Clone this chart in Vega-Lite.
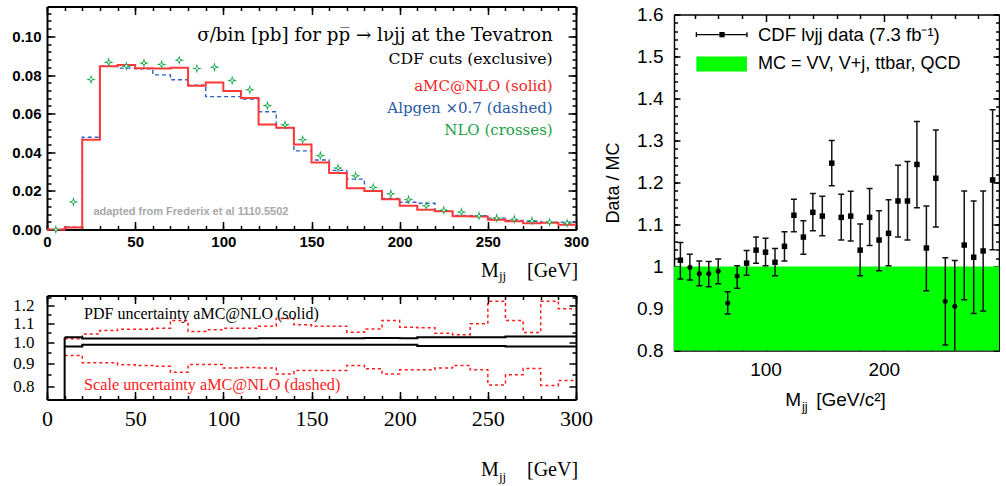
{
"$schema": "https://vega.github.io/schema/vega-lite/v6.json",
"background": "white",
"padding": {"left": 11, "top": 0.5, "right": 0, "bottom": 3},
"datasets": {
"top": [
{"m":0,"amc":0,"alp":0},{"m":10,"amc":0.001,"alp":0.0012},{"m":20,"amc":0.0465,"alp":0.0478},{"m":30,"amc":0.0846,"alp":0.0846},
{"m":40,"amc":0.0852,"alp":0.0836},{"m":50,"amc":0.0835,"alp":0.0832},{"m":60,"amc":0.0834,"alp":0.0801},{"m":70,"amc":0.0838,"alp":0.0776},
{"m":80,"amc":0.0744,"alp":0.0748},{"m":90,"amc":0.0762,"alp":0.0688},{"m":100,"amc":0.0717,"alp":0.0688},{"m":110,"amc":0.0681,"alp":0.0676},
{"m":120,"amc":0.0544,"alp":0.061},{"m":130,"amc":0.0527,"alp":0.0527},{"m":140,"amc":0.044,"alp":0.0407},{"m":150,"amc":0.0347,"alp":0.036},
{"m":160,"amc":0.0292,"alp":0.0306},{"m":170,"amc":0.0214,"alp":0.0261},{"m":180,"amc":0.02,"alp":0.0198},{"m":190,"amc":0.0157,"alp":0.0161},
{"m":200,"amc":0.0123,"alp":0.0141},{"m":210,"amc":0.0102,"alp":0.0136},{"m":220,"amc":0.0095,"alp":0.0095},{"m":230,"amc":0.0069,"alp":0.0073},
{"m":240,"amc":0.0067,"alp":0.0071},{"m":250,"amc":0.005,"alp":0.0059},{"m":260,"amc":0.0043,"alp":0.0047},{"m":270,"amc":0.0033,"alp":0.0043},
{"m":280,"amc":0.0035,"alp":0.0038},{"m":290,"amc":0.0024,"alp":0.0038},{"m":300,"amc":0.0024,"alp":0.0038}
],
"nlo": [
{"m":5,"nlo":0},{"m":15,"nlo":0.0143},{"m":25,"nlo":0.0777},{"m":35,"nlo":0.0866},{"m":45,"nlo":0.0846},{"m":55,"nlo":0.0862},
{"m":65,"nlo":0.0855},{"m":75,"nlo":0.0877},{"m":85,"nlo":0.0834},{"m":95,"nlo":0.0841},{"m":105,"nlo":0.0772},{"m":115,"nlo":0.0724},
{"m":125,"nlo":0.0642},{"m":135,"nlo":0.0542},{"m":145,"nlo":0.0465},{"m":155,"nlo":0.0383},{"m":165,"nlo":0.0318},{"m":175,"nlo":0.0278},
{"m":185,"nlo":0.0218},{"m":195,"nlo":0.0185},{"m":205,"nlo":0.0155},{"m":215,"nlo":0.0123},{"m":225,"nlo":0.01},{"m":235,"nlo":0.009},
{"m":245,"nlo":0.0071},{"m":255,"nlo":0.0059},{"m":265,"nlo":0.0053},{"m":275,"nlo":0.0045},{"m":285,"nlo":0.0038},{"m":295,"nlo":0.0033}
],
"ratio": [
{"m":10,"up":1.018,"lo":0.936,"pu":1.025,"pl":0.979},{"m":20,"up":1.043,"lo":0.902,"pu":1.019,"pl":0.987},
{"m":30,"up":1.061,"lo":0.902,"pu":1.019,"pl":0.987},{"m":40,"up":1.068,"lo":0.893,"pu":1.019,"pl":0.987},
{"m":50,"up":1.068,"lo":0.89,"pu":1.019,"pl":0.987},{"m":60,"up":1.073,"lo":0.886,"pu":1.019,"pl":0.987},
{"m":70,"up":1.116,"lo":0.86,"pu":1.019,"pl":0.987},{"m":80,"up":1.056,"lo":0.894,"pu":1.019,"pl":0.987},
{"m":90,"up":1.065,"lo":0.894,"pu":1.019,"pl":0.987},{"m":100,"up":1.073,"lo":0.879,"pu":1.019,"pl":0.987},
{"m":110,"up":1.073,"lo":0.881,"pu":1.019,"pl":0.987},{"m":120,"up":1.084,"lo":0.879,"pu":1.02,"pl":0.987},
{"m":130,"up":1.127,"lo":0.853,"pu":1.021,"pl":0.987},{"m":140,"up":1.092,"lo":0.868,"pu":1.021,"pl":0.987},
{"m":150,"up":1.084,"lo":0.868,"pu":1.021,"pl":0.987},{"m":160,"up":1.084,"lo":0.868,"pu":1.021,"pl":0.987},
{"m":170,"up":1.052,"lo":0.89,"pu":1.021,"pl":0.987},{"m":180,"up":1.069,"lo":0.875,"pu":1.022,"pl":0.987},
{"m":190,"up":1.116,"lo":0.853,"pu":1.022,"pl":0.987},{"m":200,"up":1.078,"lo":0.871,"pu":1.021,"pl":0.987},
{"m":210,"up":1.076,"lo":0.871,"pu":1.025,"pl":0.981},{"m":220,"up":1.047,"lo":0.879,"pu":1.025,"pl":0.981},
{"m":230,"up":1.039,"lo":0.89,"pu":1.025,"pl":0.981},{"m":240,"up":1.097,"lo":0.871,"pu":1.025,"pl":0.981},
{"m":250,"up":1.229,"lo":0.807,"pu":1.025,"pl":0.981},{"m":260,"up":1.116,"lo":0.849,"pu":1.029,"pl":0.979},
{"m":270,"up":1.05,"lo":0.877,"pu":1.029,"pl":0.979},{"m":280,"up":1.229,"lo":0.805,"pu":1.029,"pl":0.979},
{"m":290,"up":1.183,"lo":0.825,"pu":1.029,"pl":0.979},{"m":300,"up":1.183,"lo":0.825,"pu":1.029,"pl":0.979}
],
"cdf": [
{"m":28,"r":1.015,"lo":0.970,"hi":1.057},{"m":36,"r":0.998,"lo":0.968,"hi":1.029},{"m":44,"r":0.983,"lo":0.954,"hi":1.013},
{"m":52,"r":0.983,"lo":0.952,"hi":1.012},{"m":60,"r":0.989,"lo":0.959,"hi":1.018},{"m":68,"r":0.913,"lo":0.887,"hi":0.940},
{"m":76,"r":0.977,"lo":0.948,"hi":1.002},{"m":84,"r":1.008,"lo":0.979,"hi":1.038},{"m":92,"r":1.039,"lo":1.008,"hi":1.070},
{"m":100,"r":1.034,"lo":1.002,"hi":1.067},{"m":108,"r":1.010,"lo":0.978,"hi":1.043},{"m":116,"r":1.048,"lo":1.013,"hi":1.083},
{"m":124,"r":1.122,"lo":1.083,"hi":1.160},{"m":132,"r":1.070,"lo":1.029,"hi":1.109},{"m":140,"r":1.129,"lo":1.085,"hi":1.174},
{"m":148,"r":1.120,"lo":1.073,"hi":1.167},{"m":156,"r":1.246,"lo":1.192,"hi":1.300},{"m":164,"r":1.117,"lo":1.063,"hi":1.172},
{"m":172,"r":1.120,"lo":1.061,"hi":1.179},{"m":180,"r":1.039,"lo":0.978,"hi":1.101},{"m":188,"r":1.117,"lo":1.050,"hi":1.186},
{"m":196,"r":1.063,"lo":0.990,"hi":1.133},{"m":204,"r":1.079,"lo":1.002,"hi":1.159},{"m":212,"r":1.156,"lo":1.070,"hi":1.241},
{"m":220,"r":1.156,"lo":1.063,"hi":1.250},{"m":228,"r":1.243,"lo":1.140,"hi":1.345},{"m":236,"r":1.044,"lo":0.942,"hi":1.144},
{"m":244,"r":1.210,"lo":1.094,"hi":1.325},{"m":252,"r":0.917,"lo":0.813,"hi":1.021},{"m":260,"r":0.905,"lo":0.780,"hi":1.014},
{"m":268,"r":1.051,"lo":0.921,"hi":1.180},{"m":276,"r":1.022,"lo":0.888,"hi":1.156},{"m":284,"r":1.037,"lo":0.894,"hi":1.180},
{"m":292,"r":1.206,"lo":1.040,"hi":1.373}
]
},
"hconcat": [
{"vconcat": [
{
"width": 529, "height": 223,
"layer": [
{"data":{"name":"top"},"mark":{"type":"line","interpolate":"step-after","color":"#2a62c4","strokeWidth":1.4,"strokeDash":[4,3]},
 "encoding":{"x":{"field":"m","type":"quantitative","scale":{"domain":[0,300],"nice":false,"zero":false},"axis":null},
             "y":{"field":"alp","type":"quantitative","scale":{"domain":[0,0.1155],"nice":false,"zero":false},"axis":null}}},
{"data":{"name":"top"},"mark":{"type":"line","interpolate":"step-after","color":"#ff3838","strokeWidth":2},
 "encoding":{"x":{"field":"m","type":"quantitative","scale":{"domain":[0,300],"nice":false,"zero":false},"axis":null},
             "y":{"field":"amc","type":"quantitative","scale":{"domain":[0,0.1155],"nice":false,"zero":false},"axis":null}}},
{"data":{"name":"nlo"},"mark":{"type":"point","shape":"M0,-1L0.22,-0.22L1,0L0.22,0.22L0,1L-0.22,0.22L-1,0L-0.22,-0.22Z","filled":true,"color":"#18a849","size":100,"opacity":1},
 "encoding":{"x":{"field":"m","type":"quantitative","scale":{"domain":[0,300],"nice":false,"zero":false},"axis":null},
             "y":{"field":"nlo","type":"quantitative","scale":{"domain":[0,0.1155],"nice":false,"zero":false},"axis":null}}},
{"data":{"name":"nlo"},"mark":{"type":"point","shape":"circle","filled":true,"color":"white","size":5,"opacity":1},
 "encoding":{"x":{"field":"m","type":"quantitative","scale":{"domain":[0,300],"nice":false,"zero":false},"axis":null},
             "y":{"field":"nlo","type":"quantitative","scale":{"domain":[0,0.1155],"nice":false,"zero":false},"axis":null}}},
{"data":{"values":[{}]},"mark":{"type":"text","text":"σ/bin [pb] for pp̅ → lνjj at the Tevatron","align":"right","baseline":"middle","font":"DejaVu Serif","fontSize":18.3,"color":"#000"},
 "encoding":{"x":{"datum":286.8,"type":"quantitative","scale":{"domain":[0,300],"nice":false,"zero":false},"axis":null},
             "y":{"datum":0.1,"type":"quantitative","scale":{"domain":[0,0.1155],"nice":false,"zero":false},"axis":null}}},
{"data":{"values":[{}]},"mark":{"type":"text","text":"CDF cuts (exclusive)","align":"right","baseline":"middle","font":"DejaVu Serif","fontSize":15.7,"color":"#000"},
 "encoding":{"x":{"datum":286.8,"type":"quantitative","scale":{"domain":[0,300],"nice":false,"zero":false},"axis":null},
             "y":{"datum":0.0881,"type":"quantitative","scale":{"domain":[0,0.1155],"nice":false,"zero":false},"axis":null}}},
{"data":{"values":[{}]},"mark":{"type":"text","text":"aMC@NLO (solid)","align":"right","baseline":"middle","font":"DejaVu Serif","fontSize":15,"color":"#f02828"},
 "encoding":{"x":{"datum":286.8,"type":"quantitative","scale":{"domain":[0,300],"nice":false,"zero":false},"axis":null},
             "y":{"datum":0.0741,"type":"quantitative","scale":{"domain":[0,0.1155],"nice":false,"zero":false},"axis":null}}},
{"data":{"values":[{}]},"mark":{"type":"text","text":"Alpgen ×0.7 (dashed)","align":"right","baseline":"middle","font":"DejaVu Serif","fontSize":15,"color":"#2a5aa8"},
 "encoding":{"x":{"datum":286.8,"type":"quantitative","scale":{"domain":[0,300],"nice":false,"zero":false},"axis":null},
             "y":{"datum":0.063,"type":"quantitative","scale":{"domain":[0,0.1155],"nice":false,"zero":false},"axis":null}}},
{"data":{"values":[{}]},"mark":{"type":"text","text":"NLO (crosses)","align":"right","baseline":"middle","font":"DejaVu Serif","fontSize":15,"color":"#1e9e48"},
 "encoding":{"x":{"datum":286.8,"type":"quantitative","scale":{"domain":[0,300],"nice":false,"zero":false},"axis":null},
             "y":{"datum":0.0513,"type":"quantitative","scale":{"domain":[0,0.1155],"nice":false,"zero":false},"axis":null}}},
{"data":{"values":[{}]},"mark":{"type":"text","text":"adapted from Frederix et al 1110.5502","align":"left","baseline":"middle","font":"Liberation Sans","fontWeight":"bold","fontSize":11,"color":"#a8a8a8"},
 "encoding":{"x":{"datum":26.3,"type":"quantitative","scale":{"domain":[0,300],"nice":false,"zero":false},"axis":null},
             "y":{"datum":0.0093,"type":"quantitative","scale":{"domain":[0,0.1155],"nice":false,"zero":false},"axis":null}}},
{"data":{"values":[{}]},"mark":{"type":"text","text":"M","align":"left","baseline":"alphabetic","font":"Liberation Serif","fontSize":20,"color":"#000"},
 "encoding":{"x":{"datum":246.1,"type":"quantitative","scale":{"domain":[0,300],"nice":false,"zero":false},"axis":null},
             "y":{"datum":-0.0247,"type":"quantitative","scale":{"domain":[0,0.1155],"nice":false,"zero":false},"axis":null}}},
{"data":{"values":[{}]},"mark":{"type":"text","text":"jj","align":"left","baseline":"alphabetic","font":"Liberation Serif","fontSize":13,"color":"#000"},
 "encoding":{"x":{"datum":256.3,"type":"quantitative","scale":{"domain":[0,300],"nice":false,"zero":false},"axis":null},
             "y":{"datum":-0.0263,"type":"quantitative","scale":{"domain":[0,0.1155],"nice":false,"zero":false},"axis":null}}},
{"data":{"values":[{}]},"mark":{"type":"text","text":"[GeV]","align":"left","baseline":"alphabetic","font":"Liberation Serif","fontSize":20,"color":"#000"},
 "encoding":{"x":{"datum":272.2,"type":"quantitative","scale":{"domain":[0,300],"nice":false,"zero":false},"axis":null},
             "y":{"datum":-0.0247,"type":"quantitative","scale":{"domain":[0,0.1155],"nice":false,"zero":false},"axis":null}}},
{"data":{"values":[{}]},"mark":{"type":"point","opacity":0},
 "encoding":{"x":{"datum":0,"type":"quantitative","scale":{"domain":[0,300],"nice":false,"zero":false},
   "axis":{"orient":"bottom","values":[0,50,100,150,200,250,300],"format":"d","ticks":false,"domain":true,"domainWidth":2,"labelFont":"Liberation Sans","labelFontWeight":"bold","labelFontSize":15,"labelPadding":5,"title":null}},
  "y":{"datum":0,"type":"quantitative","scale":{"domain":[0,0.1155],"nice":false,"zero":false},
   "axis":{"orient":"left","values":[0,0.02,0.04,0.06,0.08,0.1],"format":".2f","ticks":false,"domain":true,"domainWidth":2,"labelFont":"Liberation Sans","labelFontWeight":"bold","labelFontSize":15,"labelPadding":6,"title":null}}}},
{"data":{"values":[{}]},"mark":{"type":"point","opacity":0},
 "encoding":{"x":{"datum":0,"type":"quantitative","scale":{"domain":[0,300],"nice":false,"zero":false},
   "axis":{"orient":"bottom","values":[0,50,100,150,200,250,300],"ticks":true,"tickSize":-8,"labels":false,"domain":false,"title":null}},
  "y":{"datum":0,"type":"quantitative","scale":{"domain":[0,0.1155],"nice":false,"zero":false},
   "axis":{"orient":"left","values":[0,0.02,0.04,0.06,0.08,0.1],"ticks":true,"tickSize":-8,"labels":false,"domain":false,"title":null}}}},
{"data":{"values":[{}]},"mark":{"type":"point","opacity":0},
 "encoding":{"x":{"datum":0,"type":"quantitative","scale":{"domain":[0,300],"nice":false,"zero":false},
   "axis":{"orient":"bottom","values":[0,10,20,30,40,50,60,70,80,90,100,110,120,130,140,150,160,170,180,190,200,210,220,230,240,250,260,270,280,290,300],"ticks":true,"tickSize":-4,"labels":false,"domain":false,"title":null}},
  "y":{"datum":0,"type":"quantitative","scale":{"domain":[0,0.1155],"nice":false,"zero":false},
   "axis":{"orient":"left","values":[0,0.004,0.008,0.012,0.016,0.02,0.024,0.028,0.032,0.036,0.04,0.044,0.048,0.052,0.056,0.06,0.064,0.068,0.072,0.076,0.08,0.084,0.088,0.092,0.096,0.1,0.104,0.108,0.112],"ticks":true,"tickSize":-4,"labels":false,"domain":false,"title":null}}}},
{"data":{"values":[{}]},"mark":{"type":"point","opacity":0},
 "encoding":{"x":{"datum":0,"type":"quantitative","scale":{"domain":[0,300],"nice":false,"zero":false},
   "axis":{"orient":"top","values":[0,50,100,150,200,250,300],"ticks":true,"tickSize":-8,"labels":false,"domain":true,"domainWidth":2,"title":null}},
  "y":{"datum":0,"type":"quantitative","scale":{"domain":[0,0.1155],"nice":false,"zero":false},
   "axis":{"orient":"right","values":[0,0.02,0.04,0.06,0.08,0.1],"ticks":true,"tickSize":-8,"labels":false,"domain":true,"domainWidth":2,"title":null}}}},
{"data":{"values":[{}]},"mark":{"type":"point","opacity":0},
 "encoding":{"x":{"datum":0,"type":"quantitative","scale":{"domain":[0,300],"nice":false,"zero":false},
   "axis":{"orient":"top","values":[0,10,20,30,40,50,60,70,80,90,100,110,120,130,140,150,160,170,180,190,200,210,220,230,240,250,260,270,280,290,300],"ticks":true,"tickSize":-4,"labels":false,"domain":false,"title":null}},
  "y":{"datum":0,"type":"quantitative","scale":{"domain":[0,0.1155],"nice":false,"zero":false},
   "axis":{"orient":"right","values":[0,0.004,0.008,0.012,0.016,0.02,0.024,0.028,0.032,0.036,0.04,0.044,0.048,0.052,0.056,0.06,0.064,0.068,0.072,0.076,0.08,0.084,0.088,0.092,0.096,0.1,0.104,0.108,0.112],"ticks":true,"tickSize":-4,"labels":false,"domain":false,"title":null}}}}
],
"resolve": {"axis": {"x": "independent", "y": "independent"}}
},
{
"width": 529, "height": 104,
"layer": [
{"data":{"name":"ratio"},"mark":{"type":"line","interpolate":"step-after","color":"#ff1a1a","strokeWidth":1.5,"strokeDash":[3,3]},
 "encoding":{"x":{"field":"m","type":"quantitative","scale":{"domain":[0,300],"nice":false,"zero":false},"axis":null},
             "y":{"field":"up","type":"quantitative","scale":{"type":"log","domain":[0.75,1.265],"nice":false},"axis":null}}},
{"data":{"name":"ratio"},"mark":{"type":"line","interpolate":"step-after","color":"#ff1a1a","strokeWidth":1.5,"strokeDash":[3,3]},
 "encoding":{"x":{"field":"m","type":"quantitative","scale":{"domain":[0,300],"nice":false,"zero":false},"axis":null},
             "y":{"field":"lo","type":"quantitative","scale":{"type":"log","domain":[0.75,1.265],"nice":false},"axis":null}}},
{"data":{"name":"ratio"},"mark":{"type":"line","interpolate":"step-after","color":"#000","strokeWidth":2},
 "encoding":{"x":{"field":"m","type":"quantitative","scale":{"domain":[0,300],"nice":false,"zero":false},"axis":null},
             "y":{"field":"pu","type":"quantitative","scale":{"type":"log","domain":[0.75,1.265],"nice":false},"axis":null}}},
{"data":{"name":"ratio"},"mark":{"type":"line","interpolate":"step-after","color":"#000","strokeWidth":2},
 "encoding":{"x":{"field":"m","type":"quantitative","scale":{"domain":[0,300],"nice":false,"zero":false},"axis":null},
             "y":{"field":"pl","type":"quantitative","scale":{"type":"log","domain":[0.75,1.265],"nice":false},"axis":null}}},
{"data":{"values":[{}]},"mark":{"type":"rule","color":"#000","strokeWidth":2},
 "encoding":{"x":{"datum":10,"type":"quantitative","scale":{"domain":[0,300],"nice":false,"zero":false},"axis":null},
             "y":{"datum":0.75,"type":"quantitative","scale":{"type":"log","domain":[0.75,1.265],"nice":false},"axis":null},
             "y2":{"datum":1.025}}},
{"data":{"values":[{}]},"mark":{"type":"text","text":"PDF uncertainty aMC@NLO (solid)","align":"left","baseline":"middle","font":"Liberation Serif","fontSize":16,"color":"#000"},
 "encoding":{"x":{"datum":21,"type":"quantitative","scale":{"domain":[0,300],"nice":false,"zero":false},"axis":null},
             "y":{"datum":1.15,"type":"quantitative","scale":{"type":"log","domain":[0.75,1.265],"nice":false},"axis":null}}},
{"data":{"values":[{}]},"mark":{"type":"text","text":"Scale uncertainty aMC@NLO (dashed)","align":"left","baseline":"middle","font":"Liberation Serif","fontSize":16.2,"color":"#ff1a1a"},
 "encoding":{"x":{"datum":21,"type":"quantitative","scale":{"domain":[0,300],"nice":false,"zero":false},"axis":null},
             "y":{"datum":0.807,"type":"quantitative","scale":{"type":"log","domain":[0.75,1.265],"nice":false},"axis":null}}},
{"data":{"values":[{}]},"mark":{"type":"text","text":"M","align":"left","baseline":"alphabetic","font":"Liberation Serif","fontSize":20,"color":"#000"},
 "encoding":{"x":{"datum":246.1,"type":"quantitative","scale":{"domain":[0,300],"nice":false,"zero":false},"axis":null},
             "y":{"datum":0.5118,"type":"quantitative","scale":{"type":"log","domain":[0.75,1.265],"nice":false},"axis":null}}},
{"data":{"values":[{}]},"mark":{"type":"text","text":"jj","align":"left","baseline":"alphabetic","font":"Liberation Serif","fontSize":13,"color":"#000"},
 "encoding":{"x":{"datum":256.3,"type":"quantitative","scale":{"domain":[0,300],"nice":false,"zero":false},"axis":null},
             "y":{"datum":0.497,"type":"quantitative","scale":{"type":"log","domain":[0.75,1.265],"nice":false},"axis":null}}},
{"data":{"values":[{}]},"mark":{"type":"text","text":"[GeV]","align":"left","baseline":"alphabetic","font":"Liberation Serif","fontSize":20,"color":"#000"},
 "encoding":{"x":{"datum":272.2,"type":"quantitative","scale":{"domain":[0,300],"nice":false,"zero":false},"axis":null},
             "y":{"datum":0.5118,"type":"quantitative","scale":{"type":"log","domain":[0.75,1.265],"nice":false},"axis":null}}},
{"data":{"values":[{}]},"mark":{"type":"point","opacity":0},
 "encoding":{"x":{"datum":0,"type":"quantitative","scale":{"domain":[0,300],"nice":false,"zero":false},
   "axis":{"orient":"bottom","values":[0,50,100,150,200,250,300],"format":"d","ticks":false,"domain":true,"domainWidth":2,"labelFont":"Liberation Serif","labelFontSize":22,"labelPadding":9,"title":null}},
  "y":{"datum":1,"type":"quantitative","scale":{"type":"log","domain":[0.75,1.265],"nice":false},
   "axis":{"orient":"left","values":[0.8,0.9,1,1.1,1.2],"format":".1f","ticks":false,"domain":true,"domainWidth":2,"labelFont":"Liberation Serif","labelFontSize":17,"labelPadding":13,"title":null}}}},
{"data":{"values":[{}]},"mark":{"type":"point","opacity":0},
 "encoding":{"x":{"datum":0,"type":"quantitative","scale":{"domain":[0,300],"nice":false,"zero":false},
   "axis":{"orient":"bottom","values":[0,50,100,150,200,250,300],"ticks":true,"tickSize":-8,"labels":false,"domain":false,"title":null}},
  "y":{"datum":1,"type":"quantitative","scale":{"type":"log","domain":[0.75,1.265],"nice":false},
   "axis":{"orient":"left","values":[0.8,0.9,1,1.1,1.2],"ticks":true,"tickSize":-7,"labels":false,"domain":false,"title":null}}}},
{"data":{"values":[{}]},"mark":{"type":"point","opacity":0},
 "encoding":{"x":{"datum":0,"type":"quantitative","scale":{"domain":[0,300],"nice":false,"zero":false},
   "axis":{"orient":"bottom","values":[0,10,20,30,40,50,60,70,80,90,100,110,120,130,140,150,160,170,180,190,200,210,220,230,240,250,260,270,280,290,300],"ticks":true,"tickSize":-4,"labels":false,"domain":false,"title":null}},
  "y":{"datum":1,"type":"quantitative","scale":{"type":"log","domain":[0.75,1.265],"nice":false},
   "axis":{"orient":"left","values":[0.75,0.85,0.95,1.05,1.15,1.25],"ticks":true,"tickSize":-4,"labels":false,"domain":false,"title":null}}}},
{"data":{"values":[{}]},"mark":{"type":"point","opacity":0},
 "encoding":{"x":{"datum":0,"type":"quantitative","scale":{"domain":[0,300],"nice":false,"zero":false},
   "axis":{"orient":"top","values":[0,50,100,150,200,250,300],"ticks":true,"tickSize":-8,"labels":false,"domain":true,"domainWidth":2,"title":null}},
  "y":{"datum":1,"type":"quantitative","scale":{"type":"log","domain":[0.75,1.265],"nice":false},
   "axis":{"orient":"right","values":[0.8,0.9,1,1.1,1.2],"ticks":true,"tickSize":-7,"labels":false,"domain":true,"domainWidth":2,"title":null}}}},
{"data":{"values":[{}]},"mark":{"type":"point","opacity":0},
 "encoding":{"x":{"datum":0,"type":"quantitative","scale":{"domain":[0,300],"nice":false,"zero":false},
   "axis":{"orient":"top","values":[0,10,20,30,40,50,60,70,80,90,100,110,120,130,140,150,160,170,180,190,200,210,220,230,240,250,260,270,280,290,300],"ticks":true,"tickSize":-4,"labels":false,"domain":false,"title":null}},
  "y":{"datum":1,"type":"quantitative","scale":{"type":"log","domain":[0.75,1.265],"nice":false},
   "axis":{"orient":"right","values":[0.75,0.85,0.95,1.05,1.15,1.25],"ticks":true,"tickSize":-4,"labels":false,"domain":false,"title":null}}}}
],
"resolve": {"axis": {"x": "independent", "y": "independent"}}
}
], "spacing": 66, "bounds": "flush"},
{"vconcat": [
{"width": 325, "height": 1, "data": {"values": [{}]}, "mark": {"type": "text", "text": ""}, "encoding": {}},
{
"width": 325, "height": 336,
"layer": [
{"data":{"values":[{}]},"mark":{"type":"rect","color":"#00ff00"},
 "encoding":{"x":{"datum":22.6,"type":"quantitative","scale":{"domain":[22.6,297.4],"nice":false,"zero":false},"axis":null},
             "x2":{"datum":297.4},
             "y":{"datum":0.8,"type":"quantitative","scale":{"domain":[0.8,1.6],"nice":false,"zero":false},"axis":null},
             "y2":{"datum":1.0}}},
{"data":{"name":"cdf"},"mark":{"type":"rule","color":"#111","strokeWidth":1.5,"clip":true},
 "encoding":{"x":{"field":"m","type":"quantitative","scale":{"domain":[22.6,297.4],"nice":false,"zero":false},"axis":null},
             "y":{"field":"lo","type":"quantitative","scale":{"domain":[0.8,1.6],"nice":false,"zero":false},"axis":null},
             "y2":{"field":"hi"}}},
{"data":{"name":"cdf"},"mark":{"type":"tick","orient":"horizontal","color":"#111","size":6,"thickness":1.5,"clip":true,"opacity":1},
 "encoding":{"x":{"field":"m","type":"quantitative","scale":{"domain":[22.6,297.4],"nice":false,"zero":false},"axis":null},
             "y":{"field":"lo","type":"quantitative","scale":{"domain":[0.8,1.6],"nice":false,"zero":false},"axis":null}}},
{"data":{"name":"cdf"},"mark":{"type":"tick","orient":"horizontal","color":"#111","size":6,"thickness":1.5,"clip":true,"opacity":1},
 "encoding":{"x":{"field":"m","type":"quantitative","scale":{"domain":[22.6,297.4],"nice":false,"zero":false},"axis":null},
             "y":{"field":"hi","type":"quantitative","scale":{"domain":[0.8,1.6],"nice":false,"zero":false},"axis":null}}},
{"data":{"name":"cdf"},"transform":[{"filter":"datum.r >= 1"}],"mark":{"type":"point","shape":"square","filled":true,"color":"#000","size":30,"opacity":1},
 "encoding":{"x":{"field":"m","type":"quantitative","scale":{"domain":[22.6,297.4],"nice":false,"zero":false},"axis":null},
             "y":{"field":"r","type":"quantitative","scale":{"domain":[0.8,1.6],"nice":false,"zero":false},"axis":null}}},
{"data":{"name":"cdf"},"transform":[{"filter":"datum.r < 1"}],"mark":{"type":"point","shape":"M-1,0L1,0M0,-1L0,1M-0.7,-0.7L0.7,0.7M-0.7,0.7L0.7,-0.7","filled":false,"color":"#000","strokeWidth":1.3,"size":30,"opacity":1},
 "encoding":{"x":{"field":"m","type":"quantitative","scale":{"domain":[22.6,297.4],"nice":false,"zero":false},"axis":null},
             "y":{"field":"r","type":"quantitative","scale":{"domain":[0.8,1.6],"nice":false,"zero":false},"axis":null}}},
{"data":{"values":[{}]},"mark":{"type":"rule","color":"#000","strokeWidth":1.3},
 "encoding":{"x":{"datum":41.5,"type":"quantitative","scale":{"domain":[22.6,297.4],"nice":false,"zero":false},"axis":null},
             "x2":{"datum":84.3},
             "y":{"datum":1.552,"type":"quantitative","scale":{"domain":[0.8,1.6],"nice":false,"zero":false},"axis":null}}},
{"data":{"values":[{}]},"mark":{"type":"tick","orient":"vertical","color":"#000","size":5,"thickness":1.3,"opacity":1},
 "encoding":{"x":{"datum":41.5,"type":"quantitative","scale":{"domain":[22.6,297.4],"nice":false,"zero":false},"axis":null},
             "y":{"datum":1.552,"type":"quantitative","scale":{"domain":[0.8,1.6],"nice":false,"zero":false},"axis":null}}},
{"data":{"values":[{}]},"mark":{"type":"tick","orient":"vertical","color":"#000","size":5,"thickness":1.3,"opacity":1},
 "encoding":{"x":{"datum":84.3,"type":"quantitative","scale":{"domain":[22.6,297.4],"nice":false,"zero":false},"axis":null},
             "y":{"datum":1.552,"type":"quantitative","scale":{"domain":[0.8,1.6],"nice":false,"zero":false},"axis":null}}},
{"data":{"values":[{}]},"mark":{"type":"point","shape":"square","filled":true,"color":"#000","size":28,"opacity":1},
 "encoding":{"x":{"datum":63.2,"type":"quantitative","scale":{"domain":[22.6,297.4],"nice":false,"zero":false},"axis":null},
             "y":{"datum":1.552,"type":"quantitative","scale":{"domain":[0.8,1.6],"nice":false,"zero":false},"axis":null}}},
{"data":{"values":[{}]},"mark":{"type":"rect","color":"#00ff00"},
 "encoding":{"x":{"datum":41.5,"type":"quantitative","scale":{"domain":[22.6,297.4],"nice":false,"zero":false},"axis":null},
             "x2":{"datum":84.3},
             "y":{"datum":1.464,"type":"quantitative","scale":{"domain":[0.8,1.6],"nice":false,"zero":false},"axis":null},
             "y2":{"datum":1.5}}},
{"data":{"values":[{}]},"mark":{"type":"text","text":"CDF lνjj  data (7.3 fb⁻¹)","align":"left","baseline":"middle","font":"Liberation Sans","fontSize":18.5,"color":"#000"},
 "encoding":{"x":{"datum":93.6,"type":"quantitative","scale":{"domain":[22.6,297.4],"nice":false,"zero":false},"axis":null},
             "y":{"datum":1.552,"type":"quantitative","scale":{"domain":[0.8,1.6],"nice":false,"zero":false},"axis":null}}},
{"data":{"values":[{}]},"mark":{"type":"text","text":"MC = VV, V+j, ttbar, QCD","align":"left","baseline":"middle","font":"Liberation Sans","fontSize":18,"color":"#000"},
 "encoding":{"x":{"datum":93.6,"type":"quantitative","scale":{"domain":[22.6,297.4],"nice":false,"zero":false},"axis":null},
             "y":{"datum":1.482,"type":"quantitative","scale":{"domain":[0.8,1.6],"nice":false,"zero":false},"axis":null}}},
{"data":{"values":[{}]},"mark":{"type":"text","text":"M","align":"right","baseline":"alphabetic","font":"Liberation Sans","fontSize":19,"color":"#000"},
 "encoding":{"x":{"datum":130,"type":"quantitative","scale":{"domain":[22.6,297.4],"nice":false,"zero":false},"axis":null},
             "y":{"datum":0.6667,"type":"quantitative","scale":{"domain":[0.8,1.6],"nice":false,"zero":false},"axis":null}}},
{"data":{"values":[{}]},"mark":{"type":"text","text":"jj","align":"left","baseline":"alphabetic","font":"Liberation Sans","fontSize":13,"color":"#000"},
 "encoding":{"x":{"datum":130.8,"type":"quantitative","scale":{"domain":[22.6,297.4],"nice":false,"zero":false},"axis":null},
             "y":{"datum":0.657,"type":"quantitative","scale":{"domain":[0.8,1.6],"nice":false,"zero":false},"axis":null}}},
{"data":{"values":[{}]},"mark":{"type":"text","text":"[GeV/c²]","align":"left","baseline":"alphabetic","font":"Liberation Sans","fontSize":19,"color":"#000"},
 "encoding":{"x":{"datum":142.8,"type":"quantitative","scale":{"domain":[22.6,297.4],"nice":false,"zero":false},"axis":null},
             "y":{"datum":0.6667,"type":"quantitative","scale":{"domain":[0.8,1.6],"nice":false,"zero":false},"axis":null}}},
{"data":{"values":[{}]},"mark":{"type":"point","opacity":0},
 "encoding":{"x":{"datum":100,"type":"quantitative","scale":{"domain":[22.6,297.4],"nice":false,"zero":false},
   "axis":{"orient":"bottom","values":[100,200],"format":"d","ticks":false,"domain":true,"domainWidth":1.5,"labelFont":"Liberation Sans","labelFontSize":19,"labelPadding":10,"title":null}},
  "y":{"datum":1,"type":"quantitative","scale":{"domain":[0.8,1.6],"nice":false,"zero":false},
   "axis":{"orient":"left","values":[0.8,0.9,1,1.1,1.2,1.3,1.4,1.5,1.6],"format":"~g","ticks":false,"domain":true,"domainWidth":1.5,"labelFont":"Liberation Sans","labelFontSize":19,"labelPadding":11,
     "title":"Data / MC","titleFont":"Liberation Sans","titleFontSize":18,"titleFontWeight":"normal","titleColor":"#000","titlePadding":14}}}},
{"data":{"values":[{}]},"mark":{"type":"point","opacity":0},
 "encoding":{"x":{"datum":100,"type":"quantitative","scale":{"domain":[22.6,297.4],"nice":false,"zero":false},
   "axis":{"orient":"bottom","values":[100,200],"ticks":true,"tickSize":-7,"labels":false,"domain":false,"title":null}},
  "y":{"datum":1,"type":"quantitative","scale":{"domain":[0.8,1.6],"nice":false,"zero":false},
   "axis":{"orient":"left","values":[0.8,0.9,1,1.1,1.2,1.3,1.4,1.5,1.6],"ticks":true,"tickSize":-6,"labels":false,"domain":false,"title":null}}}},
{"data":{"values":[{}]},"mark":{"type":"point","opacity":0},
 "encoding":{"x":{"datum":100,"type":"quantitative","scale":{"domain":[22.6,297.4],"nice":false,"zero":false},
   "axis":{"orient":"bottom","values":[40,60,80,120,140,160,180,220,240,260,280],"ticks":true,"tickSize":-4,"labels":false,"domain":false,"title":null}},
  "y":{"datum":1,"type":"quantitative","scale":{"domain":[0.8,1.6],"nice":false,"zero":false},
   "axis":{"orient":"left","values":[0.8,0.82,0.84,0.86,0.88,0.9,0.92,0.94,0.96,0.98,1,1.02,1.04,1.06,1.08,1.1,1.12,1.14,1.16,1.18,1.2,1.22,1.24,1.26,1.28,1.3,1.32,1.34,1.36,1.38,1.4,1.42,1.44,1.46,1.48,1.5,1.52,1.54,1.56,1.58,1.6],"ticks":true,"tickSize":-3.5,"labels":false,"domain":false,"title":null}}}},
{"data":{"values":[{}]},"mark":{"type":"point","opacity":0},
 "encoding":{"x":{"datum":100,"type":"quantitative","scale":{"domain":[22.6,297.4],"nice":false,"zero":false},
   "axis":{"orient":"top","values":[100,200],"ticks":true,"tickSize":-7,"labels":false,"domain":true,"domainWidth":1.5,"title":null}},
  "y":{"datum":1,"type":"quantitative","scale":{"domain":[0.8,1.6],"nice":false,"zero":false},
   "axis":{"orient":"right","values":[0.8,0.9,1,1.1,1.2,1.3,1.4,1.5,1.6],"ticks":true,"tickSize":-6,"labels":false,"domain":true,"domainWidth":1.5,"title":null}}}},
{"data":{"values":[{}]},"mark":{"type":"point","opacity":0},
 "encoding":{"x":{"datum":100,"type":"quantitative","scale":{"domain":[22.6,297.4],"nice":false,"zero":false},
   "axis":{"orient":"top","values":[40,60,80,120,140,160,180,220,240,260,280],"ticks":true,"tickSize":-4,"labels":false,"domain":false,"title":null}},
  "y":{"datum":1,"type":"quantitative","scale":{"domain":[0.8,1.6],"nice":false,"zero":false},
   "axis":{"orient":"right","values":[0.8,0.82,0.84,0.86,0.88,0.9,0.92,0.94,0.96,0.98,1,1.02,1.04,1.06,1.08,1.1,1.12,1.14,1.16,1.18,1.2,1.22,1.24,1.26,1.28,1.3,1.32,1.34,1.36,1.38,1.4,1.42,1.44,1.46,1.48,1.5,1.52,1.54,1.56,1.58,1.6],"ticks":true,"tickSize":-3.5,"labels":false,"domain":false,"title":null}}}}
],
"resolve": {"axis": {"x": "independent", "y": "independent"}}
}
], "spacing": 7, "bounds": "flush"}
],
"spacing": 11,
"bounds": "full",
"config": {
 "view": {"stroke": null},
 "axis": {"grid": false, "zindex": 1, "domainColor": "#000", "tickColor": "#000", "labelColor": "#000", "labelFlush": false, "labelOverlap": false, "tickWidth": 1.5}
}
}
